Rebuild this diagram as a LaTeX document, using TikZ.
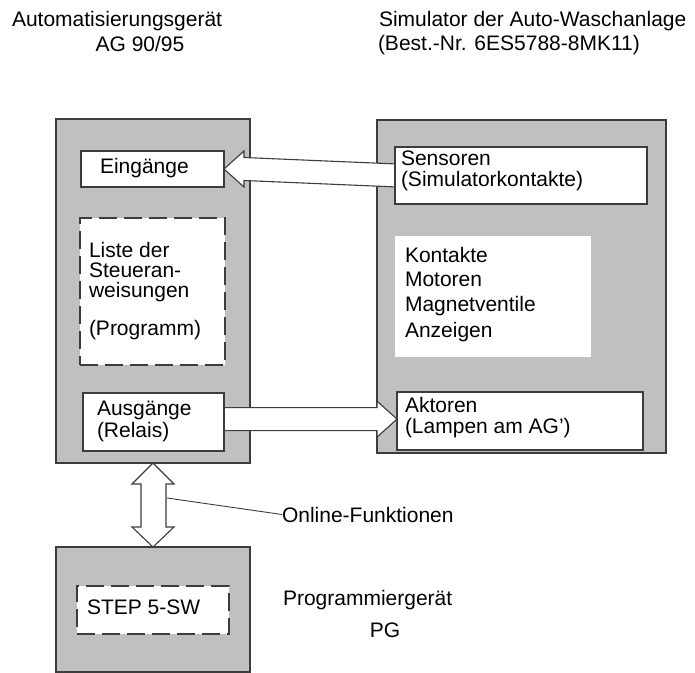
\documentclass[tikz,border=0pt]{standalone}
\usepackage{fontspec}
\setmainfont{Liberation Sans}
\usetikzlibrary{calc}
\definecolor{boxgray}{RGB}{192,192,192}
\definecolor{edge}{RGB}{60,60,60}
\pgfdeclarelayer{units}
\pgfdeclarelayer{arrows}
\pgfsetlayers{units,arrows,main}
\tikzset{
  unit/.style={draw=edge, line width=1.1bp, fill=boxgray, anchor=north west, inner sep=0pt, outer sep=0pt},
  part/.style={draw=edge, line width=1.1bp, fill=white, anchor=north west, inner sep=0pt, outer sep=0pt},
  dashpart/.style={part, dash pattern=on 18bp off 7bp},
  plain/.style={fill=white, anchor=north west, inner sep=0pt, outer sep=0pt},
  lbl/.style={anchor=base west, inner sep=0pt, outer sep=0pt, font=\fontsize{21bp}{25bp}\selectfont},
  flow/.style={draw=edge, line width=1.1bp, fill=white, line join=miter},
  leader/.style={draw=edge, line width=0.9bp}
}
\begin{document}
\begin{tikzpicture}[x=1bp, y=-1bp]
  \useasboundingbox (0,0) rectangle (695,673);

  % main units
  \begin{pgfonlayer}{units}
  \node[unit, minimum width=194bp, minimum height=344bp] (ag)  at (56,119) {};
  \node[unit, minimum width=289bp, minimum height=333bp] (sim) at (377,120) {};
  \node[unit, minimum width=194bp, minimum height=125bp] (pg)  at (56,547) {};
  \end{pgfonlayer}

  % parts of the controller
  \node[part, minimum width=143bp, minimum height=36bp] (ein) at (81,151) {};
  \node[dashpart, minimum width=145bp, minimum height=147bp] (liste) at (80,218) {};
  \node[part, minimum width=141bp, minimum height=58bp] (aus) at (83,393) {};

  % parts of the simulator
  \node[part, minimum width=252bp, minimum height=57bp] (sens) at (395,147) {};
  \node[plain, minimum width=196bp, minimum height=121bp] (kont) at (395,236) {};
  \node[part, minimum width=246bp, minimum height=58bp] (akt) at (397,392) {};

  % part of the programmer
  \node[dashpart, minimum width=152bp, minimum height=48bp] (step) at (77,586) {};

  \begin{pgfonlayer}{arrows}
  % block arrow: sensors -> inputs
  \draw[flow] ($(sens.west)+(2,-11.5)$) -- ($(ein.east)+(20,-11.5)$) -- ($(ein.east)+(20,-18)$)
    -- (ein.east) -- ($(ein.east)+(20,18)$) -- ($(ein.east)+(20,11.5)$) -- ($(sens.west)+(2,11.5)$);
  \coordinate (ausmid) at ($(aus.north east)!0.45!(aus.south east)$);
  % block arrow: outputs -> actuators
  \draw[flow] ($(ausmid)+(-2,-11.5)$) -- ($(akt.west |- ausmid)+(-20,-11.5)$) -- ($(akt.west |- ausmid)+(-20,-18)$)
    -- (akt.west |- ausmid) -- ($(akt.west |- ausmid)+(-20,18)$) -- ($(akt.west |- ausmid)+(-20,11.5)$) -- ($(ausmid)+(-2,11.5)$);

  % double block arrow between controller and programmer
  \coordinate (top) at (153,0 |- ag.south);
  \coordinate (bot) at (153,0 |- pg.north);
  \draw[flow] (top) -- ($(top)+(21,21)$) -- ($(top)+(13,21)$) -- ($(bot)+(13,-20)$) -- ($(bot)+(21,-20)$)
    -- (bot) -- ($(bot)+(-21,-20)$) -- ($(bot)+(-12,-20)$) -- ($(top)+(-12,21)$) -- ($(top)+(-21,21)$) -- cycle;
  \end{pgfonlayer}

  % leader to the label
  \node[lbl] (online) at (282,522) {Online-Funktionen};
  \coordinate (lead) at (167,498);
  \draw[leader] (lead) -- (online.west);

  % headings
  \node[lbl] (h1) at (12,27) {Automatisierungsgerät};
  \node[lbl, anchor=base] (h2) at (140,52) {AG 90/95};
  \node[lbl] (h3) at (379,27) {Simulator der Auto-Waschanlage};
  \node[lbl] (h4) at (378,51) {(Best.-Nr. 6ES5788-8MK11)};
  \node[lbl] (h5) at (283,605) {Programmiergerät};
  \node[lbl, anchor=base] (h6) at (385,637) {PG};

  % texts inside the boxes
  \node[lbl] (t1) at (100,173) {Eingänge};
  \node[lbl] (t2) at (89,257) {Liste der};
  \node[lbl] (t3) at (89,277) {Steueran-};
  \node[lbl] (t4) at (89,297) {weisungen};
  \node[lbl] (t5) at (89,335) {(Programm)};
  \node[lbl] (t6) at (97,415) {Ausgänge};
  \node[lbl] (t7) at (97,437) {(Relais)};
  \node[lbl] (t8) at (401,165) {Sensoren};
  \node[lbl] (t9) at (401,186) {(Simulatorkontakte)};
  \node[lbl] (t10) at (405,262) {Kontakte};
  \node[lbl] (t11) at (405,286) {Motoren};
  \node[lbl] (t12) at (405,311) {Magnetventile};
  \node[lbl] (t13) at (405,337) {Anzeigen};
  \node[lbl] (t14) at (405,412) {Aktoren};
  \node[lbl] (t15) at (405,433) {(Lampen am AG')};
  \node[lbl] (t16) at (87,614) {STEP 5-SW};
\end{tikzpicture}
\end{document}
